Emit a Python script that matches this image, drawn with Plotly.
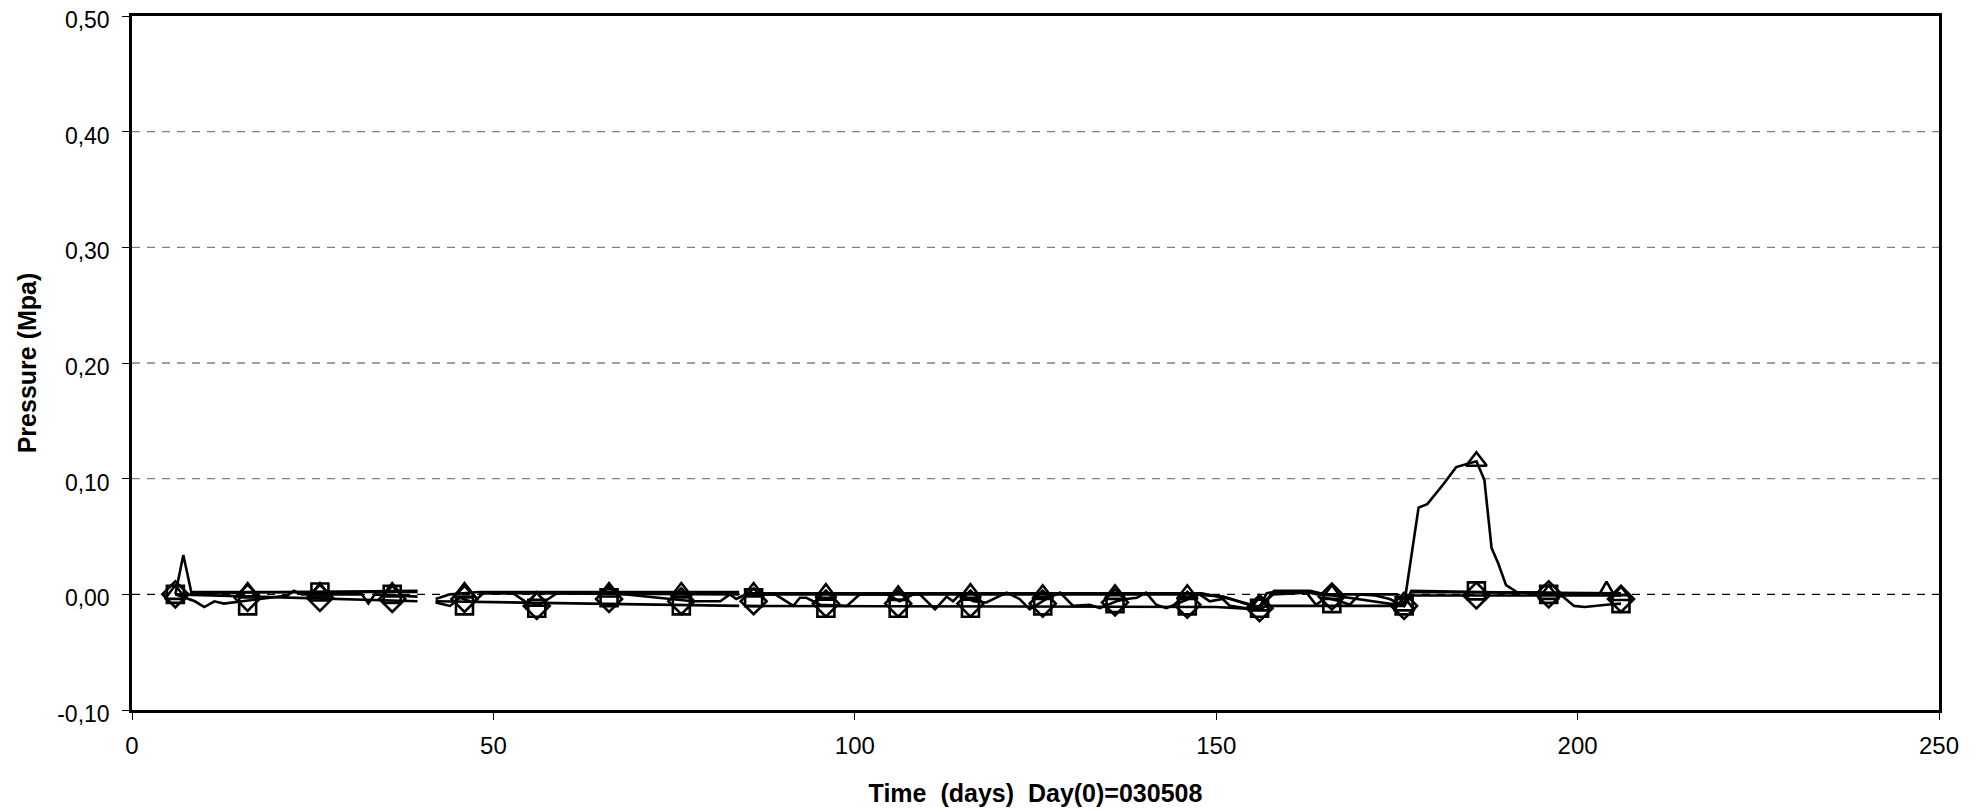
import plotly.graph_objects as go

# ---------------- data ----------------
# line series (days, MPa); None = gap in the record
U_X = [6, 7.1, 8.2, 39.5, None, 42, 44, 48, 84, None,
       85, 148, 152, 156, 157, 158, 162.5, 164, 175, 176, 178, 179.2, 181.4, 183.2, 186,
       187.1, 188.1, 189, 190.1, 191.6, 203, 204, 205, 206]
U_Y = [0.000, 0.034, 0.002, 0.002, None, -0.004, 0.000, 0.002, 0.002, None,
       0.001, 0.001, -0.004, -0.011, 0.001, 0.002, 0.002, 0.000, 0.000, -0.009, 0.075, 0.078, 0.095, 0.110, 0.115,
       0.099, 0.040, 0.027, 0.008, 0.002, 0.000, 0.011, 0.000, -0.001]

L_X = [6, 39.5, None, 42, 84, None, 85, 150, 156, 157, 176, 177, 206]
L_Y = [0.000, -0.006, None, -0.006, -0.010, None, -0.010, -0.011, -0.013, -0.010, -0.010, -0.001, -0.001]

M_X = [8, 39.5, None, 48, 84, None, 85, 147, 151, 156, 158, 163, 165, 176, 177, 206]
M_Y = [0.001, 0.003, None, 0.001, 0.000, None, 0.000, 0.000, -0.002, -0.012, 0.003, 0.003, 0.000, -0.010, 0.002, 0.001]

W_X = [6, 8.7, 10, 11.4, 12.7, 14, 16, 19, 21.5, 22.4, 23.5, 31.8, 32.7, 33.6, 39.5, None,
       42, 44, 45.4, 47.2, 48.6, 52.7, 54.6, 56.4, 58.8, 65.7, 68, 74.9, 77.6, 81.4, 82.7, 83.6, 84.6, None,
       85, 89, 91.5, 92.4, 93.3, 95.2, 98.9, 100.7, 104.4, 106.2, 108.1, 109, 111.1, 112.7, 113.6, 114.5,
       116.4, 118.2, 121, 122.8, 124.2, 126.5, 128.4, 130.2, 132.5, 133.9, 136.2, 137.6, 139, 140.3,
       141.7, 143.1, 145, 147.7, 149.1, 150.9, 151.9, 154.2, 156, 157.9, 162.5, 163.8, 165.2, 167.1,
       168.5, 169.8, 172, 174, 176, 177, 196, 198, 199.5, 201, 204, 206]
W_Y = [0.000, -0.006, -0.011, -0.006, -0.008, -0.007, -0.005, -0.003, -0.001, 0.003, 0.000, 0.000, -0.008, 0.000, -0.002, None,
       -0.007, -0.010, -0.003, -0.007, 0.001, 0.001, -0.007, -0.009, 0.001, 0.001, 0.000, -0.004, -0.006, -0.006, 0.000, -0.004, -0.001, None,
       0.000, 0.000, -0.010, -0.003, -0.003, -0.009, -0.010, 0.000, 0.000, -0.006, 0.000, 0.000, -0.013, -0.002, -0.006, 0.000,
       -0.006, -0.007, 0.0015, -0.004, -0.013, -0.004, 0.0015, -0.010, -0.009, -0.012, -0.006, -0.004, -0.003, 0.0015,
       -0.009, -0.012, -0.007, 0.000, -0.006, -0.004, -0.010, -0.012, -0.010, 0.000, 0.0015, -0.009, -0.003, -0.006,
       -0.009, 0.000, -0.001, -0.004, -0.010, 0.003, 0.001, -0.002, -0.010, -0.011, -0.009, -0.008]

# marker series, every 10 days
MARK_DAYS = [6, 16, 26, 36, 46, 56, 66, 76, 86, 96, 106, 116, 126, 136, 146, 156, 166, 176, 186, 196, 206]
SQUARE_Y = [0.000, -0.010, 0.002, 0.000, -0.010, -0.012, -0.003, -0.010, -0.003, -0.012, -0.012,
            -0.012, -0.010, -0.008, -0.010, -0.012, -0.008, -0.010, 0.003, 0.000, -0.008]
TRIANGLE_Y = [0.000, 0.002, 0.002, 0.002, 0.002, -0.006, 0.002, 0.002, 0.002, 0.001, -0.001,
              0.001, 0.000, 0.000, 0.000, -0.010, 0.000, -0.010, 0.115, 0.000, -0.001]
DIAMOND_Y = [0.000, -0.003, -0.003, -0.004, -0.004, -0.010, -0.004, -0.006, -0.006, -0.008, -0.008,
             -0.008, -0.008, -0.007, -0.009, -0.012, -0.002, -0.010, -0.001, 0.000, -0.004]

Y_TICKS = [-0.10, 0.00, 0.10, 0.20, 0.30, 0.40, 0.50]
Y_LABELS = ["-0,10", "0,00", "0,10", "0,20", "0,30", "0,40", "0,50"]
GRID_Y = [0.10, 0.20, 0.30, 0.40]
X_TICKS = [0, 50, 100, 150, 200, 250]
X_LABELS = ["0", "50", "100", "150", "200", "250"]

# ---------------- figure ----------------
FONT = "Liberation Sans, Arial, sans-serif"
fig = go.Figure()

for xs, ys in [(L_X, L_Y), (M_X, M_Y), (W_X, W_Y), (U_X, U_Y)]:
    fig.add_trace(go.Scatter(x=xs, y=ys, mode="lines", connectgaps=False,
                             line=dict(color="black", width=2.6), showlegend=False))

for ys, sym, sz in [(DIAMOND_Y, "diamond-open", 20), (SQUARE_Y, "square-open", 17),
                    (TRIANGLE_Y, "triangle-up-open", 18)]:
    fig.add_trace(go.Scatter(x=MARK_DAYS, y=ys, mode="markers", showlegend=False,
                             marker=dict(symbol=sym, size=sz, color="black",
                                         line=dict(color="black", width=2.6))))

# dashed horizontal gridlines (gray) and the zero line (black)
for gy in GRID_Y:
    fig.add_shape(type="line", xref="paper", x0=0, x1=1, yref="y", y0=gy, y1=gy,
                  line=dict(color="#808080", width=1.3, dash="8px,7px"), layer="below")
fig.add_shape(type="line", xref="paper", x0=0, x1=1, yref="y", y0=0, y1=0,
              line=dict(color="black", width=1.3, dash="8px,7px"), layer="below")

fig.update_layout(
    width=1988, height=810,
    margin=dict(l=124, r=57, t=8, b=108, autoexpand=False),
    paper_bgcolor="white", plot_bgcolor="white",
    font=dict(family=FONT, color="black", size=24),
    xaxis=dict(range=[0, 250], tickvals=X_TICKS, ticktext=X_LABELS,
               showgrid=False, zeroline=False, automargin=False,
               showline=True, linecolor="black", linewidth=2.5, mirror=True,
               ticks="outside", ticklen=7, tickcolor="black", tickwidth=1.3,
               tickfont=dict(size=24), ticklabelstandoff=5, ticklabeloverflow="allow",
               title=dict(text="<b>Time  (days)  Day(0)=030508</b>", font=dict(size=25), standoff=27)),
    yaxis=dict(range=[-0.10, 0.50], tickvals=Y_TICKS, ticktext=Y_LABELS,
               showgrid=False, zeroline=False, automargin=False,
               showline=True, linecolor="black", linewidth=2.5, mirror=True,
               ticks="outside", ticklen=7, tickcolor="black", tickwidth=1.3,
               tickfont=dict(size=23), ticklabelstandoff=8, ticklabeloverflow="allow",
               ticklabelshift=4,
               title=dict(text="<b>Pressure (Mpa)</b>", font=dict(size=25), standoff=14)),
)

fig.write_html("out.html")
